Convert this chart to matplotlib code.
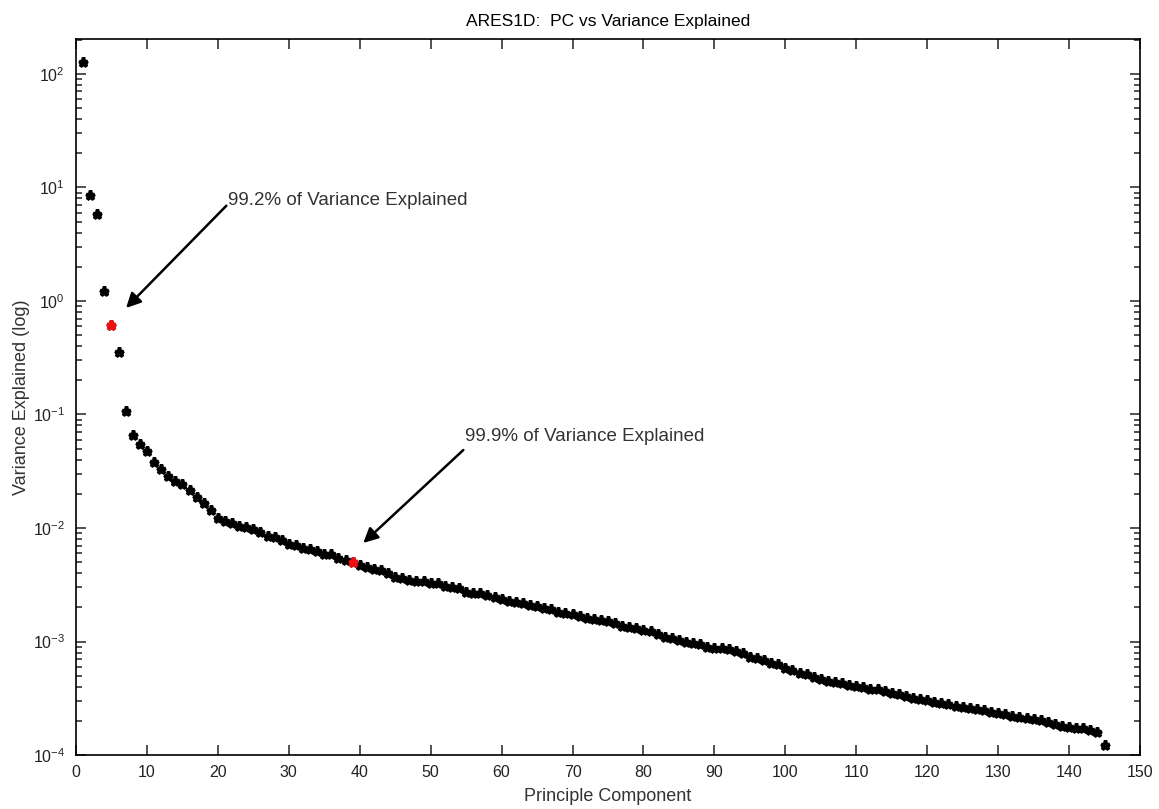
import numpy as np
import matplotlib
matplotlib.use("Agg")
import matplotlib.pyplot as plt
from matplotlib.ticker import LogLocator, MultipleLocator, NullFormatter

# variance explained by each principal component (sorted eigenvalues)
pc = list(range(1, 146))
variance = [
    128, 8.59, 5.81, 1.233, 0.611, 0.357, 0.108, 0.0659, 0.0546, 0.0476,
    0.0384, 0.0329, 0.0287, 0.0258, 0.0244, 0.0215, 0.0189, 0.0165, 0.0145, 0.01225,
    0.0116, 0.0110, 0.0105, 0.0101, 0.00979, 0.00916, 0.00851, 0.00839, 0.00783, 0.00728,
    0.00703, 0.00671, 0.00653, 0.00622, 0.00590, 0.00586, 0.00541, 0.00522, 0.00499, 0.00469,
    0.00450, 0.00439, 0.00427, 0.00399, 0.00369, 0.00361, 0.00348, 0.00343, 0.00339, 0.00330,
    0.00326, 0.00306, 0.00304, 0.00294, 0.00275, 0.00269, 0.00265, 0.00257, 0.00248, 0.00237,
    0.00229, 0.00224, 0.00220, 0.00210, 0.00206, 0.00199, 0.00192, 0.00183, 0.00177, 0.00173,
    0.00168, 0.00160, 0.00158, 0.00156, 0.00153, 0.00145, 0.00138, 0.00135, 0.00131, 0.00126,
    0.00124, 0.00116, 0.00110, 0.00107, 0.00103, 0.000998, 0.000964, 0.000944, 0.000899, 0.000877,
    0.000871, 0.000859, 0.000824, 0.000787, 0.000735, 0.000711, 0.000692, 0.000643, 0.000638, 0.000587,
    0.000557, 0.000531, 0.000514, 0.000490, 0.000465, 0.000449, 0.000437, 0.000428, 0.000414, 0.000406,
    0.000394, 0.000385, 0.000379, 0.000366, 0.000354, 0.000344, 0.000331, 0.000320, 0.000309, 0.000305,
    0.000291, 0.000285, 0.000279, 0.000272, 0.000267, 0.000258, 0.000255, 0.000249, 0.000241, 0.000233,
    0.000228, 0.000222, 0.000218, 0.000210, 0.000208, 0.000203, 0.000197, 0.000187, 0.000181, 0.000178,
    0.000174, 0.000173, 0.000166, 0.000161, 0.000122,
]

# decades labelled on the log axis
y_ticks = [1e-4, 1e-3, 1e-2, 1e-1, 1e0, 1e1, 1e2]

# cut-off components and their labels
cutoff_pc = [5, 39]
cutoff_labels = ["99.2% of Variance Explained", "99.9% of Variance Explained"]
# arrow tail / head positions in data units
arrow_tail = [(21.2, 6.9), (54.6, 0.0486)]
arrow_head = [(7.05, 0.867), (40.5, 0.00738)]
label_pos = [(21.4, 7.6), (54.9, 0.0634)]

plt.rcParams["font.family"] = ["Liberation Sans", "DejaVu Sans"]
plt.rcParams["mathtext.default"] = "regular"
plt.rcParams["axes.unicode_minus"] = False


def main():
    fig = plt.figure(figsize=(11.59, 8.09), dpi=100)
    ax = fig.add_axes([0.0656, 0.0667, 0.918, 0.8855])

    x = np.array(pc)
    y = np.array(variance)
    ax.plot(x, y, linestyle="none", marker="*", markersize=6.5,
            markeredgewidth=2.5, color="black")
    for c in cutoff_pc:
        ax.plot(x[c - 1], y[c - 1], linestyle="none", marker="*", markersize=6.5,
                markeredgewidth=2.5, color="#f01010")

    ax.set_yscale("log")
    ax.set_xlim(0, 150)
    ax.set_ylim(1e-4, 10 ** 2.31)
    ax.xaxis.set_major_locator(MultipleLocator(10))
    ax.set_yticks(y_ticks)
    ax.yaxis.set_minor_locator(LogLocator(base=10, subs=np.arange(2, 10), numticks=20))
    ax.yaxis.set_minor_formatter(NullFormatter())

    ax.tick_params(which="both", direction="in", top=True, right=True,
                   labelsize=11.5, colors="#222222", width=1.1)
    ax.tick_params(which="major", length=7)
    ax.tick_params(which="minor", length=4)
    ax.tick_params(axis="x", pad=7)
    ax.tick_params(axis="y", pad=8)
    for s in ax.spines.values():
        s.set_linewidth(1.2)

    ax.set_title("ARES1D:  PC vs Variance Explained", fontsize=12.5, pad=9)
    ax.set_xlabel("Principle Component", fontsize=13, color="#333333", labelpad=6)
    ax.set_ylabel("Variance Explained (log)", fontsize=13, color="#333333", labelpad=2)

    for lab, pos, tail, head in zip(cutoff_labels, label_pos, arrow_tail, arrow_head):
        ax.annotate("", xy=head, xytext=tail,
                    arrowprops=dict(arrowstyle="-|>", color="black", lw=1.8,
                                    mutation_scale=22, shrinkA=0, shrinkB=0))
        ax.text(pos[0], pos[1], lab, fontsize=13.5, color="#333333",
                ha="left", va="center")

    fig.savefig("out.png", dpi=100)


if __name__ == "__main__":
    main()
